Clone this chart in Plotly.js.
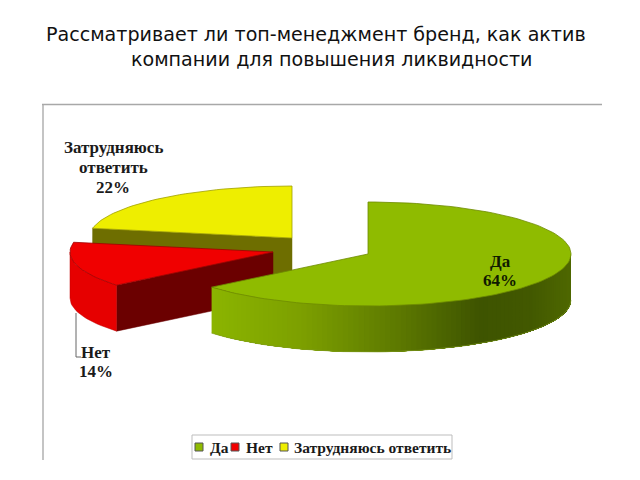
<!DOCTYPE html>
<html>
<head>
<meta charset="utf-8">
<script src="https://cdn.plot.ly/plotly-3.0.1.min.js"></script>
<style>html,body{margin:0;padding:0;background:#fff}#c{width:640px;height:480px}</style>
</head>
<body>
<div id="c"></div>
<script>
var categories = ['Да', 'Нет', 'Затрудняюсь ответить'];
var values = [64, 14, 22];
var topColors = ['#8fbb00', '#f00000', '#eeee00'];
var edgeColors = ['#6d8a00', '#a00000', '#a0a000'];
var rimColors = [null, '#e60000', '#6e6e00'];
var innerWallColors = [null, '#6b0000', '#6e6e00'];
var sliceCenters = [[368, 254], [273, 252], [292, 238]];
var titleLines = ['Рассматривает ли топ-менеджмент бренд, как актив', 'компании для повышения ликвидности'];

var RX = 203, RY = 52, DEPTH = 46, RAD = Math.PI / 180;
var total = values.reduce(function (a, b) { return a + b; }, 0);

function pt(c, deg, dy) {
  return [c[0] + RX * Math.sin(deg * RAD), c[1] - RY * Math.cos(deg * RAD) + (dy || 0)];
}
function arc(c, a, b, dy) {
  var out = [], n = Math.max(2, Math.ceil(Math.abs(b - a) / 2));
  for (var i = 0; i <= n; i++) out.push(pt(c, a + (b - a) * i / n, dy));
  return out;
}
function poly(points, fill, line, width) {
  return {
    type: 'scatter', mode: 'lines', fill: 'toself', fillcolor: fill,
    x: points.map(function (p) { return p[0]; }),
    y: points.map(function (p) { return p[1]; }),
    line: { color: line || fill, width: width === undefined ? 0.5 : width },
    showlegend: false, hoverinfo: 'skip'
  };
}
function mix(stops, x) {
  for (var i = 1; i < stops.length; i++) {
    if (x <= stops[i][0]) {
      var t = (x - stops[i - 1][0]) / (stops[i][0] - stops[i - 1][0]);
      var a = stops[i - 1][1], b = stops[i][1];
      return 'rgb(' + [0, 1, 2].map(function (k) { return Math.round(a[k] + (b[k] - a[k]) * t); }).join(',') + ')';
    }
  }
  return 'rgb(' + stops[stops.length - 1][1].join(',') + ')';
}
var greenStops = [[205, [140, 182, 0]], [300, [125, 160, 0]], [400, [92, 120, 0]], [480, [62, 84, 0]], [530, [66, 88, 0]], [575, [80, 106, 0]]];

var angles = [], acc = 0;
values.forEach(function (v) { angles.push([acc / total * 360, (acc + v) / total * 360]); acc += v; });

var traces = [];
[2, 1, 0].forEach(function (i) {
  var c = sliceCenters[i], a = angles[i][0], b = angles[i][1];
  if (innerWallColors[i]) {
    var p = pt(c, a);
    traces.push(poly([c, p, [p[0], p[1] + DEPTH], [c[0], c[1] + DEPTH], c], innerWallColors[i]));
  }
  var from = Math.max(a, 90), to = Math.min(b, 270);
  if (to > from) {
    if (i === 0) {
      // nested bands, longest first: each one paints over the last, so no seams show
      var steps = Math.ceil((to - from) / 1.5);
      for (var s = 0; s < steps; s++) {
        var a1 = from + (to - from) * (steps - s) / steps;
        var a0c = from + (to - from) * (steps - s - 1) / steps;
        var top = arc(c, from, a1, 0), bot = arc(c, a1, from, DEPTH);
        var col = mix(greenStops, pt(c, (a0c + a1) / 2)[0]);
        traces.push(poly(top.concat(bot, [top[0]]), col, col, 0));
      }
      var outline = arc(c, from, to, DEPTH);
      traces.push({ type: 'scatter', mode: 'lines', x: outline.map(function (q) { return q[0]; }), y: outline.map(function (q) { return q[1]; }), line: { color: '#7f9a20', width: 0.6 }, showlegend: false, hoverinfo: 'skip' });
    } else {
      var t2 = arc(c, from, to, 0), b2 = arc(c, to, from, DEPTH);
      traces.push(poly(t2.concat(b2, [t2[0]]), rimColors[i], '#c00000', 0.5));
    }
  }
  var face = [c].concat(arc(c, a, b, 0), [c]);
  traces.push(poly(face, topColors[i], edgeColors[i], 0.8));
});

var legendX = [199, 235, 284];
var legendTextX = [208, 244, 292];
var legendY = 447;
traces.push({
  type: 'scatter', mode: 'markers', x: legendX, y: legendX.map(function () { return legendY; }),
  marker: { symbol: 'square', size: 8, color: topColors, line: { color: '#555', width: 1 } },
  showlegend: false, hoverinfo: 'skip'
});
traces.push({
  type: 'scatter', mode: 'lines', x: [76, 76, 81], y: [313, 357, 357],
  line: { color: '#666', width: 1 }, showlegend: false, hoverinfo: 'skip'
});

var serif = 'Liberation Serif, serif';
function pct(i) { return Math.round(values[i] / total * 100) + '%'; }
function lab(x, y, text, anchor, size, color) {
  return { x: x, y: y, xref: 'x', yref: 'y', text: text, showarrow: false, xanchor: anchor || 'center', yanchor: 'middle', align: 'center',
           font: { family: serif, size: size || 17, color: color || '#1a1a1a', weight: 700 } };
}
var annotations = [
  lab(113, 147, 'Затрудняюсь'),
  lab(113, 167, 'ответить'),
  lab(113, 187, pct(2)),
  lab(500, 261, categories[0], 'center', 17, '#0f1a00'),
  lab(500, 280, pct(0), 'center', 17, '#0f1a00'),
  lab(96, 352, categories[1]),
  lab(96, 371, pct(1))
];
categories.forEach(function (n, i) { annotations.push(lab(legendTextX[i], legendY, n, 'left', 15.5)); });

var layout = {
  width: 640, height: 480, margin: { l: 0, r: 0, t: 0, b: 0 },
  paper_bgcolor: '#fff', plot_bgcolor: '#fff', showlegend: false,
  xaxis: { range: [0, 640], visible: false, fixedrange: true },
  yaxis: { range: [480, 0], visible: false, fixedrange: true },
  title: {
    text: titleLines[0] + '<br>' + '\u00a0\u00a0\u00a0\u00a0\u00a0\u00a0\u00a0\u00a0\u00a0\u00a0\u00a0\u00a0\u00a0\u00a0' + titleLines[1],
    x: 46 / 640, xanchor: 'left', y: 1 - 41 / 480, yanchor: 'middle',
    font: { family: 'DejaVu Sans, sans-serif', size: 19.1, color: '#111' }
  },
  annotations: annotations,
  shapes: [
    { type: 'line', xref: 'x', yref: 'y', x0: 43, x1: 43, y0: 104, y1: 460, line: { color: '#c4c4c4', width: 2 } },
    { type: 'line', xref: 'x', yref: 'y', x0: 42, x1: 602, y0: 104.5, y1: 104.5, line: { color: '#a8a8a8', width: 1.5 } },
    { type: 'rect', xref: 'x', yref: 'y', x0: 192, x1: 452, y0: 435, y1: 459, line: { color: '#bdbdbd', width: 1 }, fillcolor: 'rgba(0,0,0,0)' }
  ]
};
Plotly.newPlot('c', traces, layout, { displayModeBar: false, staticPlot: true });
</script>
</body>
</html>
